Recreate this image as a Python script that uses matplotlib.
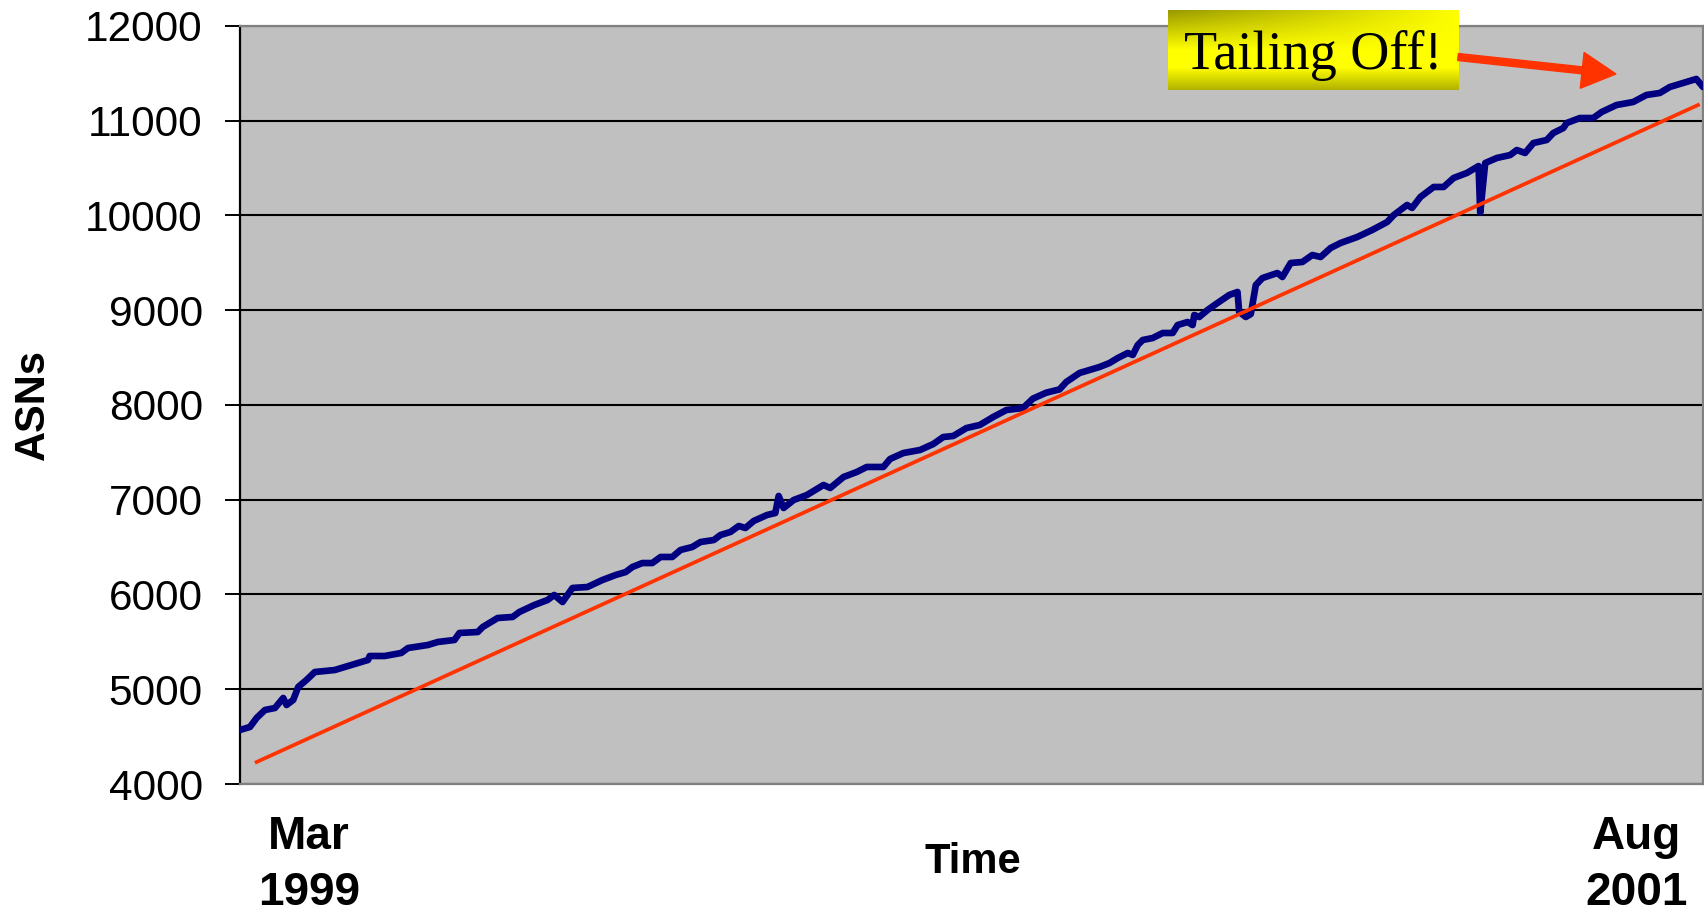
import matplotlib
matplotlib.use('Agg')
from matplotlib import pyplot as plt
from matplotlib.patches import FancyArrow
from matplotlib.transforms import IdentityTransform
import numpy as np

# ASN count (day offset from start of Mar 1999, count)
days = [0, 6, 10, 15, 21, 26, 28, 32, 35, 40, 45, 57, 67, 77, 78, 87, 97, 101,
        113, 119, 129, 132, 143, 146, 155, 164, 168, 177, 185, 189, 194, 200,
        209, 218, 226, 232, 236, 242, 248, 253, 260, 265, 272, 277, 285, 289,
        295, 300, 304, 309, 317, 322, 324, 327, 333, 341, 345, 351, 355, 363,
        371, 377, 387, 391, 399, 409, 417, 423, 429, 437, 445, 453, 461, 471,
        477, 485, 493, 497, 505, 511, 517, 523, 528, 534, 537, 540, 543, 549,
        555, 561, 564, 570, 573, 574, 577, 582, 588, 595, 600, 601, 605, 608,
        611, 615, 624, 627, 632, 639, 645, 650, 656, 662, 672, 681, 690, 694,
        702, 705, 710, 718, 724, 730, 738, 745, 746, 749, 756, 764, 768, 773,
        778, 786, 790, 796, 798, 806, 814, 819, 828, 838, 846, 854, 860, 870,
        876, 880]
asns = [4570, 4602, 4697, 4781, 4802, 4908, 4834, 4887, 5024, 5098, 5182, 5203,
        5256, 5309, 5351, 5351, 5383, 5435, 5467, 5499, 5520, 5594, 5604, 5657,
        5752, 5763, 5815, 5889, 5942, 5995, 5921, 6069, 6079, 6153, 6206, 6237,
        6290, 6332, 6332, 6396, 6396, 6470, 6501, 6554, 6575, 6628, 6660, 6723,
        6702, 6776, 6839, 6860, 7040, 6913, 6997, 7050, 7092, 7156, 7124, 7240,
        7293, 7346, 7346, 7430, 7493, 7525, 7588, 7662, 7673, 7757, 7789, 7873,
        7947, 7968, 8068, 8130, 8165, 8243, 8338, 8369, 8401, 8443, 8496, 8549,
        8528, 8633, 8686, 8707, 8760, 8760, 8844, 8876, 8844, 8950, 8929, 9003,
        9077, 9161, 9193, 8982, 8929, 8960, 9266, 9340, 9393, 9351, 9499, 9509,
        9583, 9562, 9657, 9710, 9773, 9847, 9931, 10005, 10111, 10080, 10195,
        10301, 10301, 10396, 10449, 10522, 10030, 10554, 10607, 10638, 10691,
        10660, 10765, 10797, 10871, 10923, 10976, 11029, 11029, 11092, 11166,
        11198, 11272, 11293, 11356, 11409, 11441, 11356]

# linear trend, end points
trend_days = [10, 877]
trend_asns = [4232, 11166]

x_ticks = [41.5, 840]
x_labels = ['Mar\n1999', 'Aug\n2001']
y_ticks = list(range(4000, 12001, 1000))

sans = ['Liberation Sans', 'DejaVu Sans']
serif = ['Liberation Serif', 'DejaVu Serif']

fig = plt.figure(figsize=(17.04, 9.13), dpi=100)
ax = fig.add_axes([240 / 1704, 129 / 913, 1463 / 1704, 758 / 913])
ax.set_facecolor('#C0C0C0')

ax.plot(days, asns, color='#000080', lw=4.8, solid_joinstyle='round',
        solid_capstyle='round', zorder=3)
ax.plot(trend_days, trend_asns, color='#FF3300', lw=2.7, zorder=4)

ax.set_xlim(0, 880)
ax.set_ylim(4000, 12000)
ax.set_yticks(y_ticks)
ax.set_yticklabels([str(v) for v in y_ticks], family=sans, fontsize=30.5)
ax.set_xticks(x_ticks)
ax.set_xticklabels(x_labels, family=sans, fontsize=33, fontweight='bold',
                   linespacing=1.38)
ax.tick_params(axis='x', length=0, pad=22)
ax.tick_params(axis='y', direction='out', length=10.8, width=1.4, pad=16,
               color='black')

ax.grid(axis='y', color='black', lw=1.5)
ax.set_axisbelow(True)
for s in ['top', 'right', 'bottom']:
    ax.spines[s].set_color('#808080')
    ax.spines[s].set_linewidth(1.6)
ax.spines['left'].set_color('black')
ax.spines['left'].set_linewidth(1.6)

fig.text(973 / 1704, 1 - 862 / 913, 'Time', family=sans, fontsize=30,
         fontweight='bold', ha='center', va='center')
fig.text(33 / 1704, 1 - 404 / 913, 'ASNs', family=sans, fontsize=30,
         fontweight='bold', ha='center', va='center', rotation=90)

# yellow callout box with a shaded fill
bx = fig.add_axes([1168 / 1704, 1 - 90 / 913, 290 / 1704, 80 / 913])
r = np.linspace(0, 1, 80)[:, None]
c = np.linspace(0, 1, 290)[None, :]
dark = 0.4 * (1 - c) * np.clip(1 - r / 0.5, 0, 1) \
    + 0.3 * np.clip((r - 0.72) / 0.28, 0, 1)
img = np.zeros((80, 290, 3))
img[..., 0] = 1 - dark
img[..., 1] = 1 - dark
bx.imshow(img, aspect='auto', extent=(0, 1, 0, 1))
bx.set_axis_off()
bx.text(0.5, 0.43, 'Tailing Off!', family=serif, fontsize=39, ha='center',
        va='center', transform=bx.transAxes)

arrow = FancyArrow(1458, 913 - 57, 1616 - 1458, -(74 - 57), width=7,
                   head_width=36, head_length=34, length_includes_head=True,
                   color='#FF3300', transform=IdentityTransform())
fig.patches.append(arrow)

fig.savefig('out.png', dpi=100)
